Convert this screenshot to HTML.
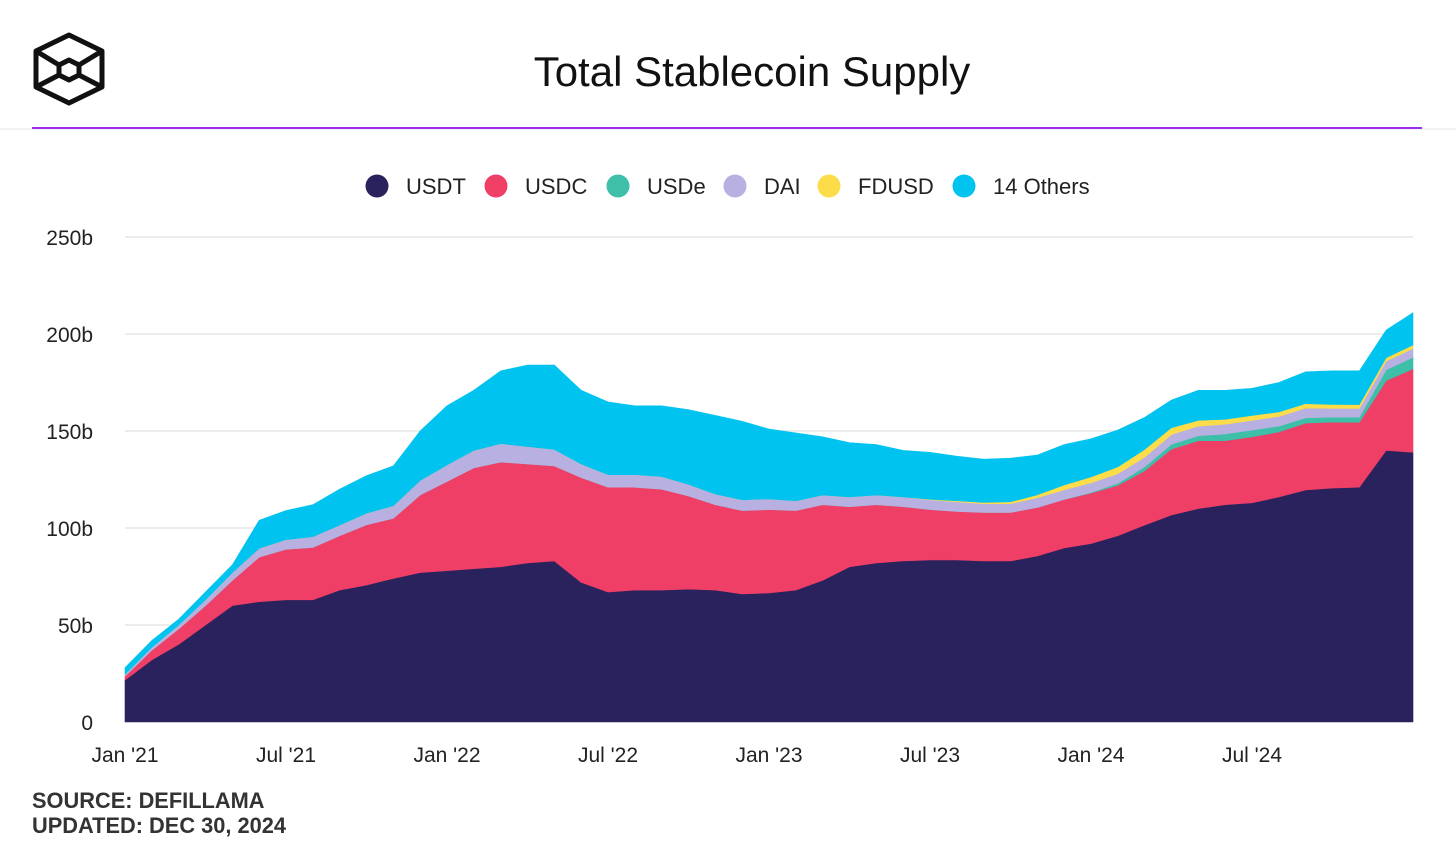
<!DOCTYPE html>
<html><head><meta charset="utf-8"><style>
body{margin:0;background:#fff;width:1456px;height:849px;overflow:hidden;font-family:"Liberation Sans",sans-serif}
svg text{font-family:"Liberation Sans",sans-serif}
</style></head><body>
<svg id="chart" width="1456" height="849">
<g fill="none" stroke="#111" stroke-width="5" stroke-linejoin="round">
<polygon points="69,35 102,51 102,87 69,103 36,87 36,51"/>
<polygon points="69,60 79,65 79,75 69,80 59,75 59,65"/>
<line x1="36" y1="51" x2="59" y2="65"/><line x1="102" y1="51" x2="79" y2="65"/>
<line x1="36" y1="87" x2="59" y2="75"/><line x1="102" y1="87" x2="79" y2="75"/>
</g>
<text x="752" y="86" text-anchor="middle" font-size="42" fill="#111">Total Stablecoin Supply</text>
<line x1="0" y1="129" x2="1456" y2="129" stroke="#e5e5e5" stroke-width="1"/>
<line x1="32" y1="128" x2="1422" y2="128" stroke="#9b2ff0" stroke-width="2"/>
<g id="legend"></g>
<g id="grid"></g>
<g id="areas"></g>
<g id="xaxis"></g>
<text x="32" y="808" font-size="21.8" font-weight="bold" fill="#333">SOURCE: DEFILLAMA</text>
<text x="32" y="833" font-size="21.8" font-weight="bold" fill="#333">UPDATED: DEC 30, 2024</text>
</svg>
<script>
const months = 49;
const usdt=[21.6,32,40,50,60,62,63,63,68,70.6,74,77,78,79,80,82,83,72,67,68,68,68.5,68,66,66.5,68,73,80,82,83,83.5,83.5,83,83,85.6,89.7,92,96,101.5,106.7,110,112,113,116,119.6,120.6,121,140,139];
const usdc=[2,5,8,10,13,23,26,27,28,31,31,40,46,52,54,51,49,54,54,53,52,48,44,43,43,41,39,31,30,28,26,25,25,25,25,25,26,26,28,34,35,33,34,33.5,34.5,34,33.5,36,43];
const usde=[0,0,0,0,0,0,0,0,0,0,0,0,0,0,0,0,0,0,0,0,0,0,0,0,0,0,0,0,0,0,0,0,0,0,0,0,0.3,1,2,2.5,2.5,3.5,3.5,3,2.7,2.6,2.6,5.5,6];
const dai=[1,1.5,2,3,4,4.5,5,5.5,5.5,6,6.5,7.5,8.5,9,9.5,9,8.5,7,6.5,6.5,6.5,6,5.5,5.5,5.5,5,5,5,5,5,5,5,4.5,4.5,5,5,5,5,5,5,5,5,5,5,5,4.5,4.5,4.5,4.5];
const fdusd=[0,0,0,0,0,0,0,0,0,0,0,0,0,0,0,0,0,0,0,0,0,0,0,0,0,0,0,0,0,0,0.3,0.5,0.7,1,1.5,2.5,3,3.5,4,3.5,3,2.5,2.5,2.3,2.3,2,2,1.8,1.8];
const others=[3.4,3.5,3,4,4,14.5,15,16.5,18.5,19.4,20.5,25.5,30.5,31,37.5,42,43.5,38,37.5,35.5,36.5,38.5,40.5,40.5,36,35,30,28,26,24,24.2,23,22.3,22.5,20.5,20.8,19.7,19,16.5,14.3,15.5,15,14,15.2,16.4,17.3,17.4,14.2,16.7];
const yTicks=[0,50,100,150,200,250];
const yTickLabels=["0","50b","100b","150b","200b","250b"];
const xTickMonths=[0,6,12,18,24,30,36,42];
const xTickLabels=["Jan '21","Jul '21","Jan '22","Jul '22","Jan '23","Jul '23","Jan '24","Jul '24"];
const seriesNames=["USDT","USDC","USDe","DAI","FDUSD","14 Others"];
const seriesColors=["#2a225c","#ef3f66","#3dbfa8","#b8b0e0","#fddc4a","#00c3ef"];
const series=[usdt,usdc,usde,dai,fdusd,others];

const NS="http://www.w3.org/2000/svg";
const X0=125,X1=1413,Y0=722,Y250=237;
const xs=i=>X0+(X1-X0)*i/(months-1);
const ys=v=>Y0-(Y0-Y250)*v/250;
function mk(t,a,p){const e=document.createElementNS(NS,t);for(const k in a)e.setAttribute(k,a[k]);p.appendChild(e);return e;}

const grid=document.getElementById('grid');
yTicks.forEach((t,i)=>{
  if(t>0){const l=mk('line',{x1:X0,x2:X1,y1:ys(t),y2:ys(t),stroke:'#e6e6e6','stroke-width':1.5},grid);
  
  }
  const tx=mk('text',{x:93,y:ys(t)+8,'text-anchor':'end','font-size':21,fill:'#222'},grid);
  tx.textContent=yTickLabels[i];
  
  
});

const areas=document.getElementById('areas');
let base=new Array(months).fill(0);
series.forEach((s,si)=>{
  const top=base.map((b,i)=>b+s[i]);
  let d='M'+xs(0)+','+ys(top[0]);
  for(let i=1;i<months;i++)d+='L'+xs(i)+','+ys(top[i]);
  for(let i=months-1;i>=0;i--)d+='L'+xs(i)+','+ys(base[i]);
  d+='Z';
  const p=mk('path',{d:d,fill:seriesColors[si],stroke:seriesColors[si],'stroke-width':0.6},areas);
  
  
  base=top;
});

const xa=document.getElementById('xaxis');
xTickMonths.forEach((m,i)=>{
  const t=mk('text',{x:xs(m),y:762,'text-anchor':'middle','font-size':21,fill:'#222'},xa);
  t.textContent=xTickLabels[i];
  
  
});

const lg=document.getElementById('legend');
const lx=[377,496,618,735,829,964];
seriesNames.forEach((n,i)=>{
  const g=mk('g',{},lg);
  
  
  mk('circle',{cx:lx[i],cy:186,r:11.5,fill:seriesColors[i]},g);
  const t=mk('text',{x:lx[i]+29,y:194,'font-size':22,fill:'#222'},g);
  t.textContent=n;
});
</script>
</body></html>
